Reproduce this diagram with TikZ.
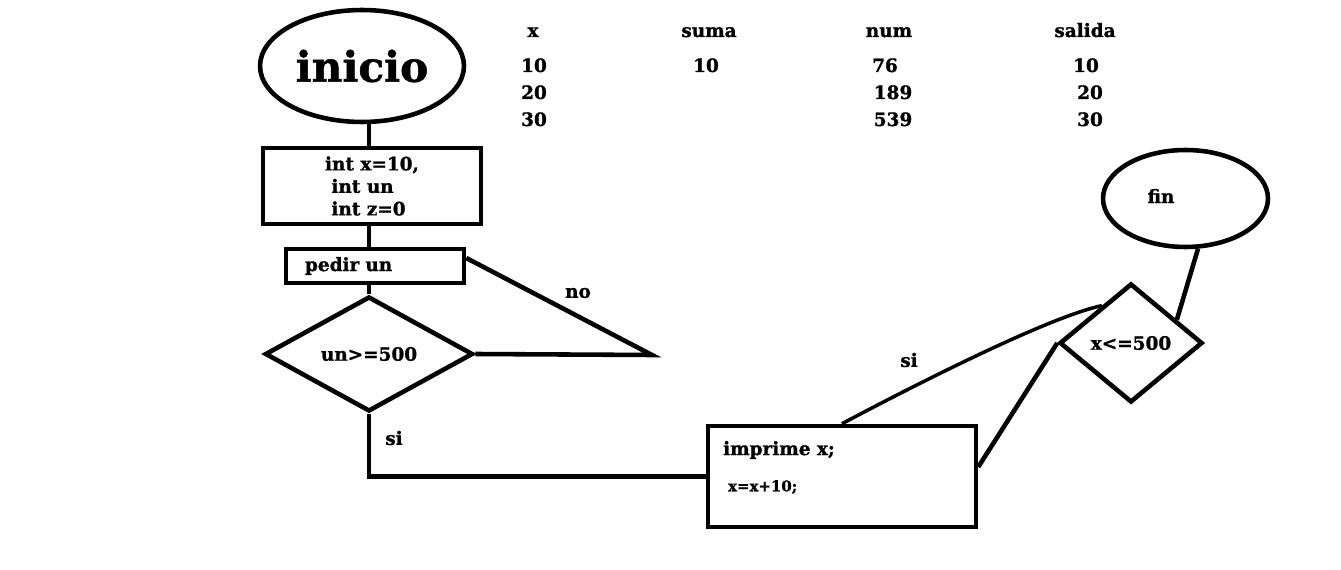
\documentclass[tikz,border=0pt]{standalone}
\usepackage{fontspec}
\setmainfont{DejaVu Serif}[BoldFeatures={FakeBold=1.2}]
\usetikzlibrary{shapes.geometric}

\begin{document}
\begin{tikzpicture}[x=0.02cm, y=-0.02cm, line width=2.6pt,
    txt/.style={font=\bfseries\fontsize{10.5}{12.8}\selectfont},
    caja/.style={draw, rectangle, txt},
    decision/.style={draw, diamond, txt, inner sep=0pt},
    terminal/.style={draw, ellipse, txt}]
  \useasboundingbox (0,0) rectangle (1341,570);

  % tabla de valores
  \foreach \px/\py/\val [count=\i] in {533/37/x, 709/37/suma, 889/37/num, 1085/37/salida,
      534/72/10, 706/72/10, 885/72/76, 1086/72/10,
      534/99/20, 893/99/189, 1090/99/20,
      534/126/30, 893/126/539, 1090/126/30}{
    \node[txt, anchor=base] (tab\i) at (\px,\py) {\val};
  }

  \node[terminal, minimum width=3.9cm, minimum height=2.24cm, font=\bfseries\fontsize{24}{28}\selectfont] (inicio) at (362,66) {inicio};
  \node[caja, minimum width=4.36cm, minimum height=1.52cm, align=left] (decl) at (372,186) {int x=10,\\ \ int un\\ \ int z=0};
  \node[caja, minimum height=0.68cm, inner xsep=0.38cm, text width=2.8cm, align=left] (pedir) at (375,266) {pedir un};
  \node[decision, minimum width=4.16cm, minimum height=2.3cm] (un) at (369,354) {un>=500};
  \node[caja, minimum width=5.36cm, minimum height=2.02cm] (imprime) at (842,476.5) {};
  \node[txt, anchor=west] (imp1) at (715,450) {imprime x;};
  \node[txt, anchor=west, font=\bfseries\fontsize{8.5}{10}\selectfont] (imp2) at (720,487) {x=x+10;};
  \node[decision, minimum width=2.86cm, minimum height=2.38cm] (cond) at (1131,343) {x<=500};
  \node[terminal, minimum width=3.3cm, minimum height=1.94cm] (fin) at (1185.5,198.5) {};
  \node[txt] (fintxt) at (1161,196) {fin};

  \node[txt] (no) at (578,293) {no};
  \node[txt] (si1) at (394,438) {si};
  \node[txt] (si2) at (909,360) {si};
  \coordinate (noturn) at (652,355);

  \draw (inicio.south -| un.north) -- (decl.north -| un.north);
  \draw (decl.south -| un.north) -- (pedir.north -| un.north);
  \draw (un.north) -- (un.north |- pedir.south);
  \draw (un.east) -- (noturn) -- (pedir.5);
  \draw (un.south) |- (imprime.west);
  \draw[line width=2pt] (imprime.north) .. controls (894,396) and (1044,318) .. (cond.128);
  \draw (imprime.4) -- (cond.west);
  \draw (fin.-76) -- (cond.27);
\end{tikzpicture}
\end{document}
